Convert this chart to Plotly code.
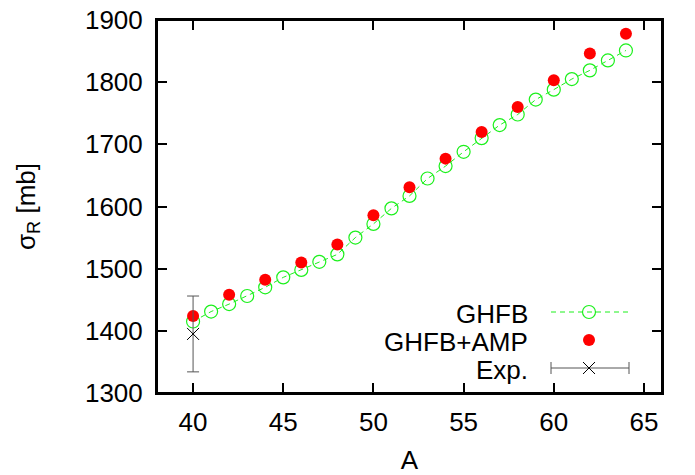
import plotly.graph_objects as go

A_ghfb = list(range(40, 65))
sig_ghfb = [1415, 1431, 1443, 1456, 1470, 1486, 1498, 1511, 1523, 1550,
            1572, 1597, 1617, 1645, 1665, 1688, 1710, 1731, 1748, 1772,
            1788, 1805, 1819, 1835, 1851]
A_amp = [40, 42, 44, 46, 48, 50, 52, 54, 56, 58, 60, 62, 64]
sig_amp = [1424, 1458, 1482, 1510, 1539, 1586, 1631, 1677, 1720, 1760, 1803, 1846, 1878]
A_exp = [40]
sig_exp = [1395]
err_exp = [61]
x_ticks = [40, 45, 50, 55, 60, 65]
y_ticks = [1300, 1400, 1500, 1600, 1700, 1800, 1900]

GREEN = "#1cf01c"
RED = "#ff0000"
FONT = "Liberation Sans, Arial, Helvetica, sans-serif"
FS = 26

fig = go.Figure()
fig.add_trace(go.Scatter(x=A_ghfb, y=sig_ghfb, mode="lines+markers", name="GHFB",
                         line=dict(color=GREEN, width=1, dash="5px,4px"),
                         marker=dict(symbol="circle-open", size=13, color=GREEN, line=dict(width=1.2, color=GREEN))))
fig.add_trace(go.Scatter(x=A_amp, y=sig_amp, mode="markers", name="GHFB+AMP",
                         marker=dict(symbol="circle", size=12, color=RED)))
fig.add_trace(go.Scatter(x=A_exp, y=sig_exp, mode="markers", name="Exp.",
                         error_y=dict(type="data", array=err_exp, visible=True, color="#555555", thickness=1, width=6),
                         marker=dict(symbol="x-thin-open", size=12, color="black", line=dict(width=1, color="black"))))

W, H = 695, 475
L, R, T, B = 157, 662, 20, 393   # plot area in page pixels

def px(x):
    return (x - L) / (R - L)

def py(y):
    return (B - y) / (B - T)

# plot frame drawn as a shape too, so the top border is always present
shapes = [dict(type="rect", xref="paper", yref="paper", x0=0, x1=1, y0=0, y1=1,
               line=dict(color="black", width=2), layer="above")]
annotations = []

# custom legend (gnuplot style)
legend_rows = [("GHFB", 313), ("GHFB+AMP", 341), ("Exp.", 369)]
text_right, s0, s1, sm = 530, 551, 629, 589
for label, yy in legend_rows:
    annotations.append(dict(x=px(text_right), y=py(yy + 1), xref="paper", yref="paper", text=label,
                            showarrow=False, xanchor="right", yanchor="middle",
                            font=dict(family=FONT, size=FS, color="black")))
# GHFB sample
shapes.append(dict(type="line", xref="paper", yref="paper", x0=px(s0), x1=px(s1), y0=py(312), y1=py(312),
                   line=dict(color=GREEN, width=1, dash="5px,4px")))
shapes.append(dict(type="circle", xref="paper", yref="paper", x0=px(sm - 6.5), x1=px(sm + 6.5),
                   y0=py(312 + 6.5), y1=py(312 - 6.5), line=dict(color=GREEN, width=1.2)))
# GHFB+AMP sample
shapes.append(dict(type="circle", xref="paper", yref="paper", x0=px(sm - 6), x1=px(sm + 6),
                   y0=py(340 + 6), y1=py(340 - 6), fillcolor=RED, line=dict(color=RED, width=0)))
# Exp sample
shapes.append(dict(type="line", xref="paper", yref="paper", x0=px(s0), x1=px(s1), y0=py(368), y1=py(368),
                   line=dict(color="#555555", width=1)))
for xe in (s0, s1):
    shapes.append(dict(type="line", xref="paper", yref="paper", x0=px(xe), x1=px(xe), y0=py(362), y1=py(374),
                       line=dict(color="#555555", width=1)))
shapes.append(dict(type="line", xref="paper", yref="paper", x0=px(sm - 6), x1=px(sm + 6), y0=py(362), y1=py(374),
                   line=dict(color="black", width=1)))
shapes.append(dict(type="line", xref="paper", yref="paper", x0=px(sm - 6), x1=px(sm + 6), y0=py(374), y1=py(362),
                   line=dict(color="black", width=1)))

axis_common = dict(ticks="inside", ticklen=10, tickwidth=2, tickcolor="black", showline=True, linewidth=2,
                   linecolor="black", showgrid=False, zeroline=False, automargin=False)

fig.update_layout(
    width=W, height=H,
    margin=dict(l=L, r=W - R, t=T, b=H - B, autoexpand=False),
    paper_bgcolor="white", plot_bgcolor="white",
    showlegend=False,
    font=dict(family=FONT, size=FS, color="black"),
    shapes=shapes, annotations=annotations,
    xaxis=dict(range=[38, 66], tickvals=x_ticks, mirror="allticks",
               title=dict(text="A", standoff=18, font=dict(size=FS)),
               ticklabelstandoff=5, tickfont=dict(size=FS), **axis_common),
    xaxis2=dict(range=[38, 66], tickvals=x_ticks, overlaying="x", anchor="y", side="top",
                showticklabels=False, **axis_common),
    yaxis=dict(range=[1300, 1900], tickvals=y_ticks, mirror="allticks",
               title=dict(text="σ<sub>R</sub> [mb]", standoff=42, font=dict(size=FS)), ticklabelstandoff=7,
               tickfont=dict(size=FS), **axis_common),
)

fig.write_html("out.html", config={"displayModeBar": False},
               post_script="document.body.style.margin='0';document.body.style.overflow='hidden';")
